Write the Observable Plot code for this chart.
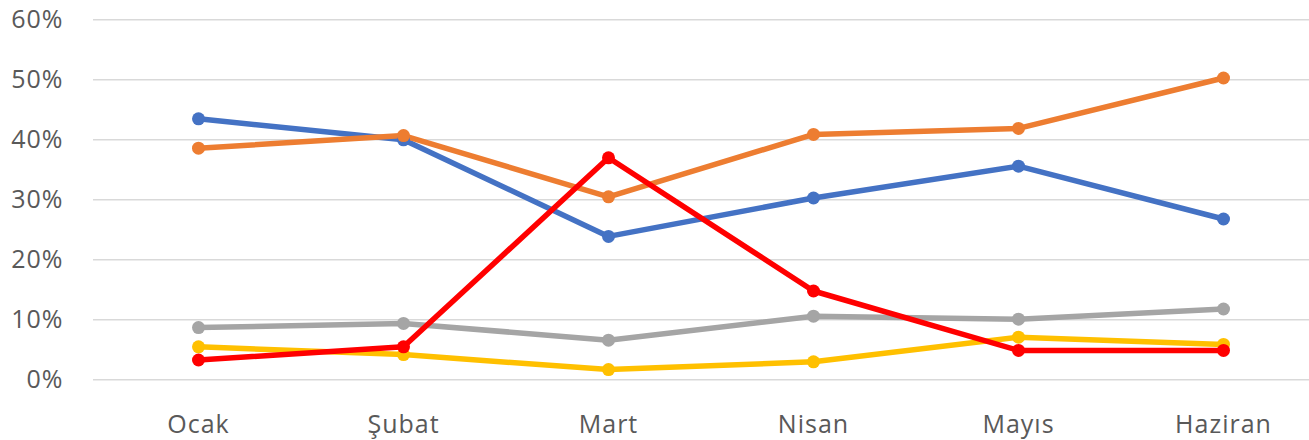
<!DOCTYPE html>
<html>
<head>
<meta charset="utf-8">
<script src="https://cdn.jsdelivr.net/npm/d3@7"></script>
<script src="https://cdn.jsdelivr.net/npm/@observablehq/plot@0.6"></script>
<style>
  html, body { margin: 0; padding: 0; background: #fff; }
  #chart svg { display: block; }
  #chart svg text { letter-spacing: 1px; }
</style>
</head>
<body>
<div id="chart"></div>
<script>
const months = ["Ocak", "Şubat", "Mart", "Nisan", "Mayıs", "Haziran"];
const seriesNames = ["Seri 1", "Seri 2", "Seri 3", "Seri 4", "Seri 5"];
const seriesColors = ["#4472C4", "#ED7D31", "#A5A5A5", "#FFC000", "#FF0000"];
const seri1 = [43.5, 40.0, 23.9, 30.3, 35.6, 26.8];
const seri2 = [38.6, 40.7, 30.5, 40.9, 41.9, 50.3];
const seri3 = [8.7, 9.4, 6.6, 10.6, 10.1, 11.8];
const seri4 = [5.5, 4.2, 1.7, 3.0, 7.1, 5.9];
const seri5 = [3.3, 5.5, 37.0, 14.8, 4.9, 4.9];
const yTicks = [0, 10, 20, 30, 40, 50, 60];

const allValues = [seri1, seri2, seri3, seri4, seri5];
const data = [];
allValues.forEach((vals, si) => {
  vals.forEach((v, mi) => data.push({series: seriesNames[si], month: months[mi], value: v}));
});

const font = "'Open Sans', sans-serif";
const chart = Plot.plot({
  width: 1309,
  height: 440,
  marginLeft: 93,
  marginRight: 0,
  marginTop: 19.3,
  marginBottom: 60.7,
  style: {fontFamily: font, fontSize: "25px", color: "#595959", background: "#fff"},
  x: {type: "point", domain: months, range: [196, 1225], padding: 0, label: null},
  y: {domain: [0, 60], label: null},
  color: {domain: seriesNames, range: seriesColors},
  marks: [
    Plot.ruleY(yTicks, {stroke: "#D9D9D9", strokeWidth: 1.5}),
    Plot.axisY({ticks: yTicks, tickSize: 0, tickPadding: 30, tickFormat: d => d + "%", label: null, fill: "#595959"}),
    Plot.axisX({tickSize: 0, tickPadding: 35, label: null, fill: "#595959"}),
    Plot.line(data, {x: "month", y: "value", z: "series", stroke: "series", strokeWidth: 5.5, strokeLinejoin: "round"}),
    Plot.dot(data, {x: "month", y: "value", fill: "series", r: 6.5})
  ]
});
document.getElementById("chart").appendChild(chart);
</script>
</body>
</html>
